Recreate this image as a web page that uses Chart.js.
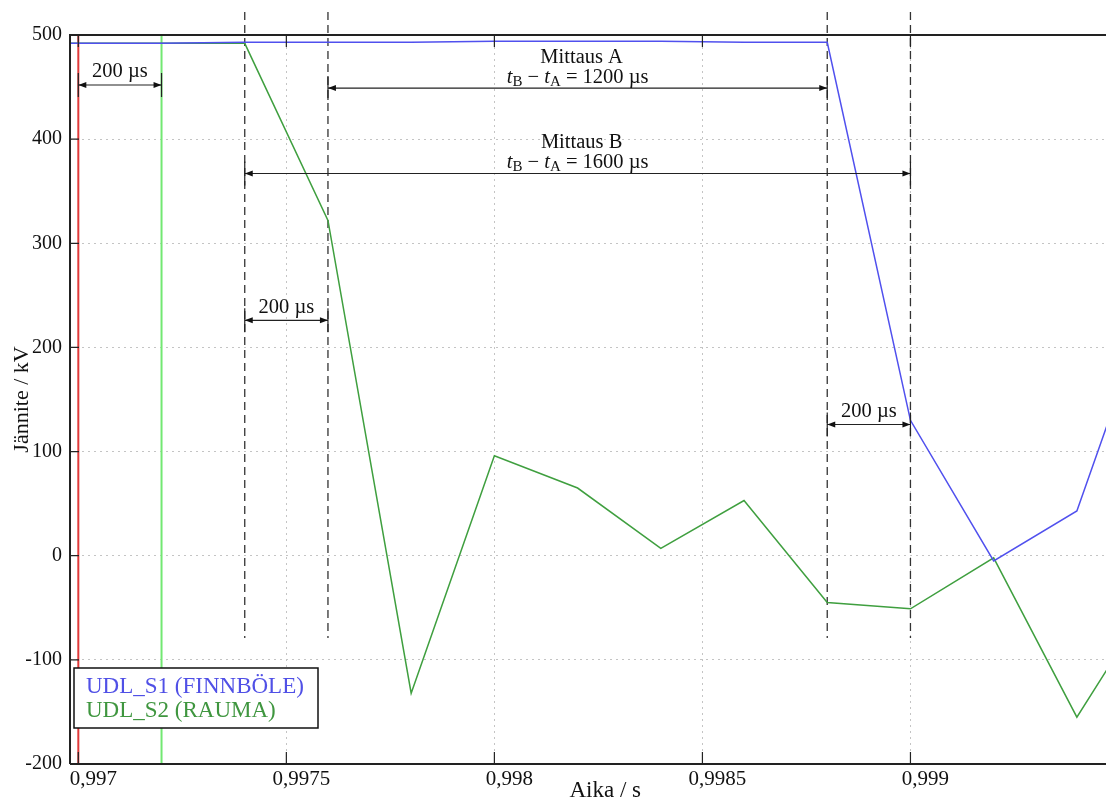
<!DOCTYPE html>
<html lang="fi">
<head>
<meta charset="UTF-8" />
<title>UDL jännitteet</title>
<script src="https://cdn.jsdelivr.net/npm/chart.js"></script>
<style>
  html, body { margin: 0; padding: 0; background: #fff; }
  .wrap { width: 1106px; height: 805px; position: relative; }
</style>
</head>
<body>
<div class="wrap"><canvas id="c"></canvas></div>
<script>
// sample times (s) and voltages (kV)
const times = [0.9968, 0.9970, 0.9972, 0.9974, 0.9976, 0.9978, 0.9980, 0.9982,
               0.9984, 0.9986, 0.9988, 0.9990, 0.9992, 0.9994, 0.9996];
const finnbole = [492, 492, 492, 493, 493, 493, 494, 494, 494, 493, 493, 130, -5, 43, 270];
const rauma    = [492, 492, 492, 492, 322, -132, 96, 65, 7, 53, -45, -51, -2, -155, -29];

const xTicks = [0.997, 0.9975, 0.998, 0.9985, 0.999];
const yTicks = [-200, -100, 0, 100, 200, 300, 400, 500];

// cursor lines
const redCursor = 0.997;
const greenCursor = 0.9972;
// dashed measurement lines
const markerTimes = [0.9974, 0.9976, 0.9988, 0.999];
const markerTop = 522;
const markerBottom = -79;

// dimension arrows
const arrowFrom  = [0.997, 0.9976, 0.9974, 0.9974, 0.9988];
const arrowTo    = [0.9972, 0.9988, 0.999, 0.9976, 0.999];
const arrowLevel = [452, 449, 367, 226, 126];
const arrowText  = ["200 µs", "1200 µs", "1600 µs", "200 µs", "200 µs"];
const arrowTitle = ["", "Mittaus A", "Mittaus B", "", ""];

const SERIF = '"Liberation Serif", "DejaVu Serif", serif';

const toPts = (ys) => times.map((t, i) => ({ x: t, y: ys[i] }));

const datasets = [
  { label: "UDL_S1 (FINNBÖLE)", data: toPts(finnbole), borderColor: "#5050ee", borderWidth: 1.5 },
  { label: "UDL_S2 (RAUMA)", data: toPts(rauma), borderColor: "#3f9f3f", borderWidth: 1.5 },
  { label: "red", data: [{ x: redCursor, y: 500 }, { x: redCursor, y: -200 }], borderColor: "#e03a3a", borderWidth: 2 },
  { label: "green", data: [{ x: greenCursor, y: 500 }, { x: greenCursor, y: -200 }], borderColor: "#72e872", borderWidth: 2 }
];
markerTimes.forEach((t) => {
  datasets.push({
    label: "marker",
    data: [{ x: t, y: markerTop }, { x: t, y: markerBottom }],
    borderColor: "#333",
    borderWidth: 1.3,
    borderDash: [8, 5],
    clip: false
  });
});
datasets.forEach((d) => { d.pointRadius = 0; d.tension = 0; d.fill = false; });

function drawTbText(ctx, cx, cy, value) {
  const parts = [
    { t: "t", f: "italic 20.5px " + SERIF, dy: 0 },
    { t: "B", f: "15px " + SERIF, dy: 5 },
    { t: " − ", f: "20.5px " + SERIF, dy: 0 },
    { t: "t", f: "italic 20.5px " + SERIF, dy: 0 },
    { t: "A", f: "15px " + SERIF, dy: 5 },
    { t: " = " + value, f: "20.5px " + SERIF, dy: 0 }
  ];
  let w = 0;
  parts.forEach((p) => { ctx.font = p.f; p.w = ctx.measureText(p.t).width; w += p.w; });
  let x = cx - w / 2;
  ctx.textAlign = "left";
  ctx.textBaseline = "middle";
  parts.forEach((p) => { ctx.font = p.f; ctx.fillText(p.t, x, cy + p.dy); x += p.w; });
}

const decor = {
  id: "decor",
  afterDatasetsDraw(chart) {
    const { ctx, chartArea: a, scales: { x, y } } = chart;
    ctx.save();
    ctx.fillStyle = "#111";
    ctx.strokeStyle = "#222";

    // dimension arrows
    arrowFrom.forEach((f, i) => {
      const x1 = x.getPixelForValue(f), x2 = x.getPixelForValue(arrowTo[i]);
      const py = y.getPixelForValue(arrowLevel[i]);
      ctx.lineWidth = 1.2;
      ctx.setLineDash([]);
      ctx.beginPath();
      ctx.moveTo(x1, py); ctx.lineTo(x2, py);
      ctx.moveTo(x1, py - 12); ctx.lineTo(x1, py + 12);
      ctx.moveTo(x2, py - 12); ctx.lineTo(x2, py + 12);
      ctx.stroke();
      [[x1, 1], [x2, -1]].forEach(([px, d]) => {
        ctx.beginPath();
        ctx.moveTo(px, py);
        ctx.lineTo(px + d * 8, py - 3);
        ctx.lineTo(px + d * 8, py + 3);
        ctx.closePath();
        ctx.fill();
      });
      const cx = (x1 + x2) / 2;
      ctx.font = "20.5px " + SERIF;
      ctx.textAlign = "center";
      ctx.textBaseline = "middle";
      if (arrowTitle[i]) {
        ctx.fillText(arrowTitle[i], cx + 4, py - 31);
        drawTbText(ctx, cx, py - 11, arrowText[i]);
      } else {
        ctx.fillText(arrowText[i], cx, py - 13);
      }
    });

    // frame
    ctx.strokeStyle = "#222";
    ctx.lineWidth = 2;
    ctx.beginPath();
    ctx.moveTo(a.left, a.bottom); ctx.lineTo(a.left, a.top); ctx.lineTo(a.right, a.top);
    ctx.moveTo(a.left, a.bottom); ctx.lineTo(a.right, a.bottom);
    ctx.stroke();
    // inward ticks
    ctx.lineWidth = 1.2;
    ctx.beginPath();
    xTicks.forEach((v) => {
      const px = x.getPixelForValue(v);
      ctx.moveTo(px, a.bottom); ctx.lineTo(px, a.bottom - 12);
      ctx.moveTo(px, a.top); ctx.lineTo(px, a.top + 12);
    });
    yTicks.forEach((v) => {
      const py = y.getPixelForValue(v);
      ctx.moveTo(a.left, py); ctx.lineTo(a.left + 9, py);
    });
    ctx.stroke();

    // legend
    const lx = 74, ly = 668, lw = 244, lh = 60;
    ctx.fillStyle = "#fff";
    ctx.fillRect(lx, ly, lw, lh);
    ctx.lineWidth = 1.5;
    ctx.strokeStyle = "#111";
    ctx.strokeRect(lx, ly, lw, lh);
    ctx.font = "23px " + SERIF;
    ctx.textAlign = "left";
    ctx.textBaseline = "middle";
    ctx.fillStyle = "#5050e6";
    ctx.fillText(datasets[0].label, lx + 12, ly + 19);
    ctx.fillStyle = "#3f963f";
    ctx.fillText(datasets[1].label, lx + 12, ly + 43);
    ctx.restore();
  }
};

new Chart(document.getElementById("c"), {
  type: "line",
  data: { datasets },
  plugins: [decor],
  options: {
    responsive: true,
    maintainAspectRatio: false,
    animation: false,
    events: [],
    layout: { padding: { top: 35, right: 0, left: 0, bottom: 0 } },
    plugins: { legend: { display: false }, tooltip: { enabled: false } },
    scales: {
      x: {
        type: "linear",
        min: 0.99698,
        max: 0.99947,
        afterBuildTicks: (s) => { s.ticks = xTicks.map((v) => ({ value: v })); },
        afterFit: (s) => { s.height = 41; },
        grid: { color: "#c4c4c4", lineWidth: 1, drawTicks: false },
        border: { display: false, dash: [2, 4] },
        ticks: {
          padding: 3,
          labelOffset: 15,
          maxRotation: 0,
          autoSkip: false,
          color: "#111",
          font: { family: SERIF, size: 21 },
          callback: (v) => String(v).replace(".", ",")
        },
        title: {
          display: true,
          text: "\u2003\u2002Aika / s",
          color: "#111",
          font: { family: SERIF, size: 23 },
          padding: { top: 0, bottom: 0 }
        }
      },
      y: {
        min: -200,
        max: 500,
        afterBuildTicks: (s) => { s.ticks = yTicks.map((v) => ({ value: v })); },
        afterFit: (s) => { s.width = 70; },
        grid: { color: "#c4c4c4", lineWidth: 1, drawTicks: false },
        border: { display: false, dash: [2, 4] },
        ticks: {
          padding: 8,
          color: "#111",
          font: { family: SERIF, size: 20 }
        },
        title: {
          display: true,
          text: "Jännite / kV",
          color: "#111",
          font: { family: SERIF, size: 22 },
          padding: { top: 9, bottom: 0 }
        }
      }
    }
  }
});
</script>
</body>
</html>
